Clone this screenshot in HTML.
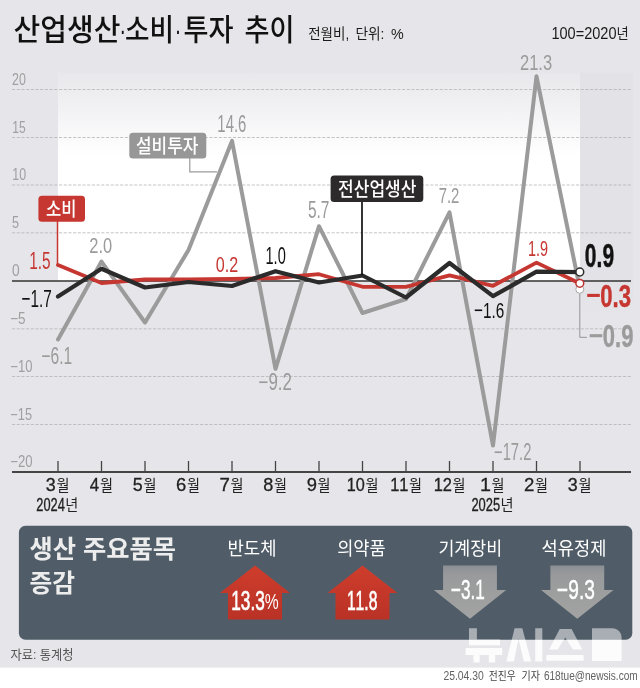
<!DOCTYPE html>
<html lang="ko">
<head>
<meta charset="utf-8">
<title>산업생산·소비·투자 추이</title>
<style>
html,body{margin:0;padding:0;background:#fff;}
body{width:640px;height:688px;overflow:hidden;font-family:"Liberation Sans","Noto Sans CJK KR",sans-serif;}
svg{display:block;will-change:transform;}
svg text{font-family:"Liberation Sans","Noto Sans CJK KR",sans-serif;font-kerning:none;}
</style>
</head>
<body>
<svg width="640" height="688" viewBox="0 0 640 688" role="img" aria-label="산업생산·소비·투자 추이 (전월비, 단위: %, 100=2020년)">
<defs>
<linearGradient id="gplot" x1="0" y1="0" x2="0" y2="1">
<stop offset="0" stop-color="#e8e8ec"/><stop offset="0.4" stop-color="#fff"/><stop offset="1" stop-color="#fff"/>
</linearGradient>
<linearGradient id="gband" x1="0" y1="0" x2="0" y2="1">
<stop offset="0" stop-color="#e2e2e7"/><stop offset="0.86" stop-color="#e2e2e7"/><stop offset="1" stop-color="#e2e2e7" stop-opacity="0"/>
</linearGradient>
<linearGradient id="gred" x1="0" y1="0" x2="0" y2="1">
<stop offset="0" stop-color="#cf3d2c"/><stop offset="1" stop-color="#b93226"/>
</linearGradient>
<linearGradient id="ggray" x1="0" y1="0" x2="0" y2="1">
<stop offset="0" stop-color="#8b9095"/><stop offset="0.18" stop-color="#999a9b"/><stop offset="1" stop-color="#a3a3a3"/>
</linearGradient>
</defs>
<!-- backgrounds -->
<rect width="640" height="688" fill="#fff"/>
<rect width="640" height="667.6" fill="#e6e6ea"/>
<rect x="580" y="72.7" width="53" height="245" fill="url(#gband)"/>
<rect x="58" y="72.7" width="522" height="208.3" fill="url(#gplot)"/>
<!-- grid -->
<line x1="12" x2="631" y1="89.5" y2="89.5" stroke="#b5b5b8" stroke-width="0.8" stroke-dasharray="3.1 1.6"/>
<line x1="12" x2="631" y1="137.5" y2="137.5" stroke="#b5b5b8" stroke-width="0.8" stroke-dasharray="3.1 1.6"/>
<line x1="12" x2="631" y1="185" y2="185" stroke="#b5b5b8" stroke-width="0.8" stroke-dasharray="3.1 1.6"/>
<line x1="12" x2="631" y1="232.8" y2="232.8" stroke="#b5b5b8" stroke-width="0.8" stroke-dasharray="3.1 1.6"/>
<line x1="12" x2="631" y1="328.8" y2="328.8" stroke="#b5b5b8" stroke-width="0.8" stroke-dasharray="3.1 1.6"/>
<line x1="12" x2="631" y1="376.5" y2="376.5" stroke="#b5b5b8" stroke-width="0.8" stroke-dasharray="3.1 1.6"/>
<line x1="12" x2="631" y1="424.5" y2="424.5" stroke="#b5b5b8" stroke-width="0.8" stroke-dasharray="3.1 1.6"/>
<line x1="12" x2="631" y1="281" y2="281" stroke="#333" stroke-width="1.4"/>
<line x1="12" x2="631" y1="472" y2="472" stroke="#444" stroke-width="1.8"/>
<line x1="58.0" x2="58.0" y1="461" y2="472" stroke="#444" stroke-width="1.3"/>
<line x1="101.5" x2="101.5" y1="461" y2="472" stroke="#444" stroke-width="1.3"/>
<line x1="145.0" x2="145.0" y1="461" y2="472" stroke="#444" stroke-width="1.3"/>
<line x1="188.5" x2="188.5" y1="461" y2="472" stroke="#444" stroke-width="1.3"/>
<line x1="232.0" x2="232.0" y1="461" y2="472" stroke="#444" stroke-width="1.3"/>
<line x1="275.5" x2="275.5" y1="461" y2="472" stroke="#444" stroke-width="1.3"/>
<line x1="319.0" x2="319.0" y1="461" y2="472" stroke="#444" stroke-width="1.3"/>
<line x1="362.5" x2="362.5" y1="461" y2="472" stroke="#444" stroke-width="1.3"/>
<line x1="406.0" x2="406.0" y1="461" y2="472" stroke="#444" stroke-width="1.3"/>
<line x1="449.5" x2="449.5" y1="461" y2="472" stroke="#444" stroke-width="1.3"/>
<line x1="493.0" x2="493.0" y1="461" y2="472" stroke="#444" stroke-width="1.3"/>
<line x1="536.5" x2="536.5" y1="461" y2="472" stroke="#444" stroke-width="1.3"/>
<line x1="580.0" x2="580.0" y1="461" y2="472" stroke="#444" stroke-width="1.3"/>
<!-- y axis labels -->
<text transform="translate(11.98 84.75) scale(0.785 1)" font-size="15.82" fill="#a0a0a2">20</text>
<text transform="translate(12.28 132.74) scale(0.752 1)" font-size="16.05" fill="#a0a0a2">15</text>
<text transform="translate(12.25 180.25) scale(0.786 1)" font-size="15.82" fill="#a0a0a2">10</text>
<text transform="translate(12.09 228.04) scale(0.788 1)" font-size="16.05" fill="#a0a0a2">5</text>
<text transform="translate(12.06 276.25) scale(0.873 1)" font-size="15.82" fill="#a0a0a2">0</text>
<text transform="translate(10.23 324.04) scale(0.843 1)" font-size="16.05" fill="#a0a0a2">−5</text>
<text transform="translate(10.26 371.75) scale(0.826 1)" font-size="15.82" fill="#a0a0a2">−10</text>
<text transform="translate(10.27 419.74) scale(0.800 1)" font-size="16.05" fill="#a0a0a2">−15</text>
<text transform="translate(10.25 467.25) scale(0.833 1)" font-size="15.82" fill="#a0a0a2">−20</text>
<!-- leader lines -->
<polyline points="57.5,221 57.5,266" fill="none" stroke="#c63732" stroke-width="1.5"/>
<polyline points="189.8,158 189.8,171.8 217,171.8" fill="none" stroke="#9b9b9b" stroke-width="1.2"/>
<polyline points="579.8,293.5 579.8,337.3 587,337.3" fill="none" stroke="#959597" stroke-width="1"/>
<!-- series -->
<polyline points="58.0,339.5 101.5,261.6 145.0,322.5 188.5,250.0 232.0,140.9 275.5,368.8 319.0,226.2 362.5,313.0 406.0,299.0 449.5,212.3 493.0,445.6 536.5,76.3 580.0,289.3" fill="none" stroke="#9b9b9b" stroke-width="4" stroke-linejoin="round" stroke-linecap="round"/>
<polyline points="58.0,265.0 101.5,283.0 145.0,279.5 188.5,279.4 232.0,278.9 275.5,278.0 319.0,274.2 362.5,286.8 406.0,286.8 449.5,275.4 493.0,285.8 536.5,262.6 580.0,283.5" fill="none" stroke="#c63732" stroke-width="3.8" stroke-linejoin="round" stroke-linecap="round"/>
<polyline points="58.0,296.5 101.5,268.8 145.0,287.5 188.5,282.0 232.0,286.0 275.5,271.2 319.0,282.5 362.5,275.5 406.0,297.5 449.5,263.0 493.0,296.2 536.5,271.7 580.0,272.2" fill="none" stroke="#2b2b2b" stroke-width="4.2" stroke-linejoin="round" stroke-linecap="round"/>
<line x1="362" x2="362" y1="201" y2="275" stroke="#111" stroke-width="1.7"/>
<!-- end markers -->
<circle cx="579.8" cy="289.3" r="4" fill="#fff" stroke="#a8a8aa" stroke-width="1"/>
<circle cx="579.8" cy="283.3" r="3.9" fill="#fff" stroke="#bd3230" stroke-width="1.5"/>
<circle cx="579.8" cy="272" r="3.9" fill="#fff" stroke="#2b2b2b" stroke-width="1.5"/>
<!-- series tags -->
<rect x="38.4" y="195.8" width="46.6" height="25.9" rx="3.5" fill="#c63732"/>
<text x="46" y="215.6" font-size="19" font-weight="500" fill="#fff" textLength="30.5" lengthAdjust="spacingAndGlyphs">소비</text>
<rect x="129.3" y="132.8" width="77" height="25.8" rx="3.5" fill="#979797"/>
<text x="136" y="152.8" font-size="19.5" font-weight="500" fill="#fff" textLength="62.5" lengthAdjust="spacingAndGlyphs">설비투자</text>
<rect x="330.6" y="175.6" width="92.7" height="26.4" rx="3.5" fill="#2c2a2a"/>
<text x="338" y="196" font-size="19" font-weight="500" fill="#fff" textLength="78.5" lengthAdjust="spacingAndGlyphs">전산업생산</text>
<!-- data labels -->
<text transform="translate(29.23 268.96) scale(0.621 1)" font-size="24.79" fill="#c63732">1.5</text>
<text transform="translate(21.54 306.60) scale(0.623 1)" font-size="24.56" fill="#111">−1.7</text>
<text transform="translate(89.37 252.58) scale(0.719 1)" font-size="22.88" fill="#9b9b9b">2.0</text>
<text transform="translate(41.53 363.77) scale(0.660 1)" font-size="23.59" fill="#9b9b9b">−6.1</text>
<text transform="translate(217.36 131.97) scale(0.641 1)" font-size="23.30" fill="#9b9b9b">14.6</text>
<text transform="translate(215.77 271.68) scale(0.706 1)" font-size="22.88" fill="#c63732">0.2</text>
<text transform="translate(265.49 264.37) scale(0.630 1)" font-size="23.16" fill="#111">1.0</text>
<text transform="translate(258.57 389.67) scale(0.730 1)" font-size="23.16" fill="#9b9b9b">−9.2</text>
<text transform="translate(307.88 218.17) scale(0.670 1)" font-size="23.07" fill="#9b9b9b">5.7</text>
<text transform="translate(438.64 202.70) scale(0.658 1)" font-size="22.63" fill="#9b9b9b">7.2</text>
<text transform="translate(474.04 318.38) scale(0.678 1)" font-size="22.60" fill="#111">−1.6</text>
<text transform="translate(494.07 459.60) scale(0.639 1)" font-size="23.06" fill="#9b9b9b">−17.2</text>
<text transform="translate(528.00 255.68) scale(0.647 1)" font-size="22.32" fill="#c63732">1.9</text>
<text transform="translate(519.97 69.98) scale(0.750 1)" font-size="22.03" fill="#9b9b9b">21.3</text>
<text transform="translate(584.87 267.18) scale(0.644 1)" font-size="32.63" font-weight="700" fill="#111" stroke="#111" stroke-width="0.4" vector-effect="non-scaling-stroke" stroke-linejoin="round">0.9</text>
<rect x="587.2" y="293.86" width="12.6" height="3.1" fill="#c63732"/>
<text transform="translate(600.32 307.04) scale(0.695 1)" font-size="31.85" font-weight="700" fill="#c63732" stroke="#c63732" stroke-width="0.4" vector-effect="non-scaling-stroke" stroke-linejoin="round">0.3</text>
<rect x="589.7" y="334.16" width="12.6" height="3.1" fill="#9b9b9b"/>
<text transform="translate(602.83 347.39) scale(0.689 1)" font-size="31.92" font-weight="700" fill="#9b9b9b" stroke="#9b9b9b" stroke-width="0.4" vector-effect="non-scaling-stroke" stroke-linejoin="round">0.9</text>
<!-- x axis labels -->
<text transform="translate(45.87 491.02) scale(0.999 1)" font-size="17.94" fill="#222" stroke="#222" stroke-width="0.3" vector-effect="non-scaling-stroke">3</text>
<text x="56.5" y="490.8" font-size="16" fill="#222" textLength="13" lengthAdjust="spacingAndGlyphs">월</text>
<text transform="translate(89.66 491.20) scale(0.914 1)" font-size="18.46" fill="#222" stroke="#222" stroke-width="0.3" vector-effect="non-scaling-stroke">4</text>
<text x="100" y="490.8" font-size="16" fill="#222" textLength="13" lengthAdjust="spacingAndGlyphs">월</text>
<text transform="translate(132.83 491.02) scale(0.985 1)" font-size="18.20" fill="#222" stroke="#222" stroke-width="0.3" vector-effect="non-scaling-stroke">5</text>
<text x="143.5" y="490.8" font-size="16" fill="#222" textLength="13" lengthAdjust="spacingAndGlyphs">월</text>
<text transform="translate(176.11 491.02) scale(1.027 1)" font-size="17.94" fill="#222" stroke="#222" stroke-width="0.3" vector-effect="non-scaling-stroke">6</text>
<text x="187" y="490.8" font-size="16" fill="#222" textLength="13" lengthAdjust="spacingAndGlyphs">월</text>
<text transform="translate(219.59 491.20) scale(1.013 1)" font-size="18.46" fill="#222" stroke="#222" stroke-width="0.3" vector-effect="non-scaling-stroke">7</text>
<text x="230.5" y="490.8" font-size="16" fill="#222" textLength="13" lengthAdjust="spacingAndGlyphs">월</text>
<text transform="translate(263.26 491.02) scale(1.010 1)" font-size="17.94" fill="#222" stroke="#222" stroke-width="0.3" vector-effect="non-scaling-stroke">8</text>
<text x="274" y="490.8" font-size="16" fill="#222" textLength="13" lengthAdjust="spacingAndGlyphs">월</text>
<text transform="translate(306.69 491.02) scale(1.026 1)" font-size="17.94" fill="#222" stroke="#222" stroke-width="0.3" vector-effect="non-scaling-stroke">9</text>
<text x="317.5" y="490.8" font-size="16" fill="#222" textLength="13" lengthAdjust="spacingAndGlyphs">월</text>
<text transform="translate(346.71 491.02) scale(0.906 1)" font-size="17.94" fill="#222" stroke="#222" stroke-width="0.3" vector-effect="non-scaling-stroke">10</text>
<text x="365.5" y="490.8" font-size="16" fill="#222" textLength="13" lengthAdjust="spacingAndGlyphs">월</text>
<text transform="translate(390.20 491.20) scale(0.889 1)" font-size="18.46" fill="#222" stroke="#222" stroke-width="0.3" vector-effect="non-scaling-stroke">11</text>
<text x="409" y="490.8" font-size="16" fill="#222" textLength="13" lengthAdjust="spacingAndGlyphs">월</text>
<text transform="translate(433.70 491.20) scale(0.903 1)" font-size="18.19" fill="#222" stroke="#222" stroke-width="0.3" vector-effect="non-scaling-stroke">12</text>
<text x="452.5" y="490.8" font-size="16" fill="#222" textLength="13" lengthAdjust="spacingAndGlyphs">월</text>
<text transform="translate(480.05 491.20) scale(1.068 1)" font-size="18.46" fill="#222" stroke="#222" stroke-width="0.3" vector-effect="non-scaling-stroke">1</text>
<text x="491.5" y="490.8" font-size="16" fill="#222" textLength="13" lengthAdjust="spacingAndGlyphs">월</text>
<text transform="translate(524.11 491.20) scale(1.026 1)" font-size="18.19" fill="#222" stroke="#222" stroke-width="0.3" vector-effect="non-scaling-stroke">2</text>
<text x="535" y="490.8" font-size="16" fill="#222" textLength="13" lengthAdjust="spacingAndGlyphs">월</text>
<text transform="translate(567.87 491.02) scale(0.999 1)" font-size="17.94" fill="#222" stroke="#222" stroke-width="0.3" vector-effect="non-scaling-stroke">3</text>
<text x="578.5" y="490.8" font-size="16" fill="#222" textLength="13" lengthAdjust="spacingAndGlyphs">월</text>
<text transform="translate(36.36 510.73) scale(0.720 1)" font-size="17.80" fill="#222" stroke="#222" stroke-width="0.3" vector-effect="non-scaling-stroke">2024</text>
<text x="65.3" y="510.5" font-size="15.5" fill="#222" textLength="13" lengthAdjust="spacingAndGlyphs">년</text>
<text transform="translate(471.45 510.73) scale(0.725 1)" font-size="17.80" fill="#222" stroke="#222" stroke-width="0.3" vector-effect="non-scaling-stroke">2025</text>
<text x="500.4" y="510.5" font-size="15.5" fill="#222" textLength="13" lengthAdjust="spacingAndGlyphs">년</text>
<!-- header -->
<text y="39.5" font-size="30" font-weight="500" fill="#111"><tspan x="13.5" textLength="107" lengthAdjust="spacingAndGlyphs">산업생산</tspan><tspan x="119.4" textLength="6.5" lengthAdjust="spacingAndGlyphs">·</tspan><tspan x="125" textLength="49" lengthAdjust="spacingAndGlyphs">소비</tspan><tspan x="174.7" textLength="6.5" lengthAdjust="spacingAndGlyphs">·</tspan><tspan x="183.5" textLength="50" lengthAdjust="spacingAndGlyphs">투자</tspan><tspan x="244.5" textLength="50" lengthAdjust="spacingAndGlyphs">추이</tspan></text>
<text x="308.2" y="39" font-size="14.5" fill="#1a1a1a" textLength="41" lengthAdjust="spacingAndGlyphs">전월비,</text>
<text x="355.4" y="39" font-size="14.5" fill="#1a1a1a" textLength="29" lengthAdjust="spacingAndGlyphs">단위:</text>
<text transform="translate(390.89 39.11) scale(0.944 1)" font-size="15.15" fill="#1a1a1a">%</text>
<text transform="translate(551.39 39.34) scale(0.896 1)" font-size="16.24" fill="#1a1a1a">100=2020</text>
<text x="616.4" y="39" font-size="14.3" fill="#222" textLength="12.2" lengthAdjust="spacingAndGlyphs">년</text>
<!-- bottom panel -->
<rect x="18.9" y="525.8" width="613.4" height="113.9" rx="6.5" fill="#505d68"/>
<text x="29.5" y="557.7" font-size="24.5" font-weight="700" fill="#ededed" textLength="146.5" lengthAdjust="spacingAndGlyphs">생산 주요품목</text>
<text x="29.5" y="592" font-size="24.5" font-weight="700" fill="#ededed" textLength="45.5" lengthAdjust="spacingAndGlyphs">증감</text>
<text x="227.5" y="555" font-size="18.5" fill="#fff" textLength="49" lengthAdjust="spacingAndGlyphs">반도체</text>
<text x="337.2" y="555" font-size="18.5" fill="#fff" textLength="48.5" lengthAdjust="spacingAndGlyphs">의약품</text>
<text x="438.4" y="555" font-size="18.5" fill="#fff" textLength="63.8" lengthAdjust="spacingAndGlyphs">기계장비</text>
<text x="541.6" y="555" font-size="18.5" fill="#fff" textLength="65" lengthAdjust="spacingAndGlyphs">석유정제</text>
<path fill="url(#gred)" d="M255 565.6 L290 593 L282 593 L282 619.6 L228 619.6 L228 593 L220 593 Z"/>
<path fill="url(#gred)" d="M362.5 565.6 L397.5 593 L389.5 593 L389.5 619.6 L335.5 619.6 L335.5 593 L327.5 593 Z"/>
<path fill="url(#ggray)" d="M443.1 565.5 L496.9 565.5 L496.9 590 L506.2 590 L470 618.8 L433.8 590 L443.1 590 Z"/>
<path fill="url(#ggray)" d="M550.4 565.5 L604.1999999999999 565.5 L604.1999999999999 590 L613.5 590 L577.3 618.8 L541.0999999999999 590 L550.4 590 Z"/>
<text transform="translate(231.29 609.63) scale(0.631 1)" font-size="27.26" fill="#fff" stroke="#fff" stroke-width="0.7">13.3</text>
<text transform="translate(264.64 609.47) scale(0.730 1)" font-size="21.44" fill="#fff">%</text>
<text transform="translate(346.91 609.63) scale(0.574 1)" font-size="27.26" fill="#fff" stroke="#fff" stroke-width="0.7">11.8</text>
<text transform="translate(450.95 599.33) scale(0.626 1)" font-size="27.40" fill="#fff" stroke="#fff" stroke-width="0.4" vector-effect="non-scaling-stroke">−3.1</text>
<text transform="translate(557.06 599.33) scale(0.699 1)" font-size="27.40" fill="#fff" stroke="#fff" stroke-width="0.4" vector-effect="non-scaling-stroke">−9.3</text>
<!-- footer -->
<text x="10.6" y="659" font-size="13" fill="#555" textLength="63" lengthAdjust="spacingAndGlyphs">자료: 통계청</text>
<text transform="translate(443.38 679.70) scale(0.838 1)" font-size="12.40" fill="#626262">25.04.30</text>
<text x="488.8" y="679.5" font-size="11" fill="#444" textLength="27" lengthAdjust="spacingAndGlyphs">전진우</text>
<text x="521.5" y="679.5" font-size="11" fill="#444" textLength="18.5" lengthAdjust="spacingAndGlyphs">기자</text>
<text transform="translate(543.89 679.70) scale(0.815 1)" font-size="12.40" fill="#626262">618tue@newsis.com</text>
<!-- watermark -->
<clipPath id="cpIn"><rect x="18.9" y="525.8" width="613.4" height="113.9" rx="6.5"/></clipPath>
<clipPath id="cpOut"><path clip-rule="evenodd" d="M0 600H640V688H0Z M25.4 525.8H625.8a6.5 6.5 0 0 1 6.5 6.5V633.2a6.5 6.5 0 0 1 -6.5 6.5H25.4a6.5 6.5 0 0 1 -6.5 -6.5V532.3a6.5 6.5 0 0 1 6.5 -6.5Z"/></clipPath>
<path id="wmk" fill="#fff" fill-opacity="0.5" clip-path="url(#cpIn)" d="M469 628.3h7.9v11.2h23.1v5.7h-31z M465.6 648h36.6v7h-7v7.6h-6.4v-7.6h-9.1v7.6h-6.3v-7.6h-7.8z M514.6 628.3h7.7l8.9 33.1h-7.3l-5.4-22.6l-4.6 22.6h-7.5z M535.2 628.3h7.1v33.1h-7.1z M559.7 629h11.9l10.6 20.4h-9.2l-7.7-11.9l-7.7 11.9h-8.5z M546.3 655h37.3v5.7h-37.3z M592 628.3h20.6a9 9 0 0 1 9 9v23.7h-29.6z"><title>뉴시스</title></path>
<path fill="#fff" fill-opacity="0.86" clip-path="url(#cpOut)" d="M469 628.3h7.9v11.2h23.1v5.7h-31z M465.6 648h36.6v7h-7v7.6h-6.4v-7.6h-9.1v7.6h-6.3v-7.6h-7.8z M514.6 628.3h7.7l8.9 33.1h-7.3l-5.4-22.6l-4.6 22.6h-7.5z M535.2 628.3h7.1v33.1h-7.1z M559.7 629h11.9l10.6 20.4h-9.2l-7.7-11.9l-7.7 11.9h-8.5z M546.3 655h37.3v5.7h-37.3z M592 628.3h20.6a9 9 0 0 1 9 9v23.7h-29.6z"/>
</svg>
</body>
</html>
